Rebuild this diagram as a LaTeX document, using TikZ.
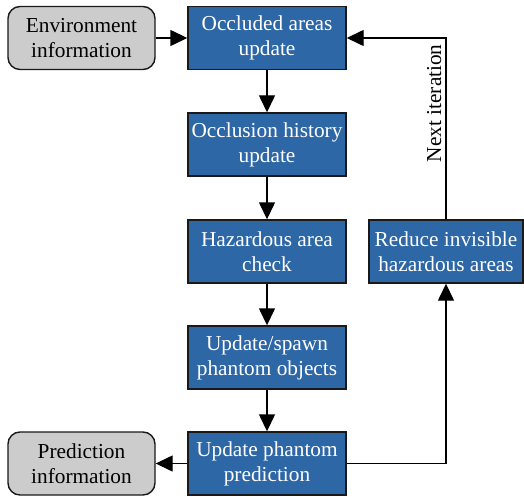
\documentclass[tikz,border=0pt]{standalone}
\usepackage{fontspec}
\setmainfont{Liberation Serif}
\usetikzlibrary{arrows.meta}
\definecolor{boxblue}{RGB}{46,103,166}
\definecolor{boxgray}{RGB}{204,204,204}
\begin{document}
\begin{tikzpicture}[x=1pt,y=1pt,
  base/.style={draw=black!90, line width=1.4pt, minimum height=63pt, align=center, inner sep=0pt,
    font=\fontsize{21.3}{25}\selectfont},
  bluebox/.style={base, fill=boxblue, text=white, minimum width=158pt},
  graybox/.style={base, fill=boxgray, text=black, minimum width=147pt, rounded corners=12pt},
  arr/.style={line width=1.4pt, -{Triangle[length=17pt,width=16pt]}}]
\useasboundingbox (0,0) rectangle (524,-497);
\node[graybox] (env) at (81.5,-38) {Environment\\information};
\node[bluebox] (occ) at (267,-38) {Occluded areas\\update};
\node[bluebox] (hist) at (267,-144.5) {Occlusion history\\update};
\node[bluebox] (haz) at (267,-251.5) {Hazardous area\\check};
\node[bluebox] (spawn) at (267,-357.5) {Update/spawn\\phantom objects};
\node[bluebox] (pred) at (267,-463.5) {Update phantom\\prediction};
\node[graybox] (pinfo) at (81.5,-463.5) {Prediction\\information};
\node[bluebox, minimum width=154pt] (red) at (446,-251.5) {Reduce invisible\\hazardous areas};
\draw[arr] (env) -- (occ);
\draw[arr] (occ) -- (hist);
\draw[arr] (hist) -- (haz);
\draw[arr] (haz) -- (spawn);
\draw[arr] (spawn) -- (pred);
\draw[arr] (pred) -- (pinfo);
\draw[arr] (pred.east) -| (red.south);
\draw[arr] (red.north) -- node[pos=0.64, rotate=90, anchor=south, inner sep=4pt, font=\fontsize{21.3}{25}\selectfont] (lbl) {Next iteration} (red.north |- occ.east) -- (occ.east);
\end{tikzpicture}
\end{document}
